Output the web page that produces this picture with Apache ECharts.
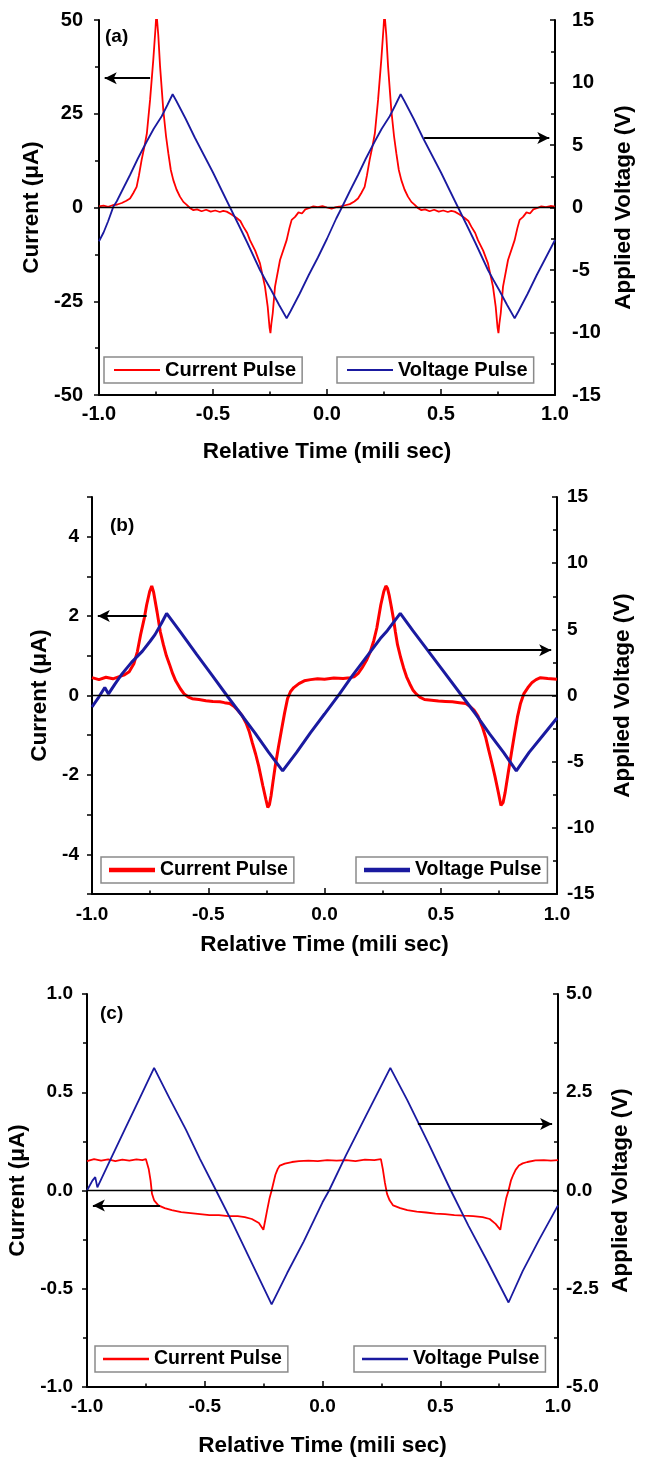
<!DOCTYPE html>
<html>
<head>
<meta charset="utf-8">
<script src="https://cdn.jsdelivr.net/npm/echarts@6/dist/echarts.min.js"></script>
<style>
  html, body { margin: 0; padding: 0; background: #fff; }
  #chart { width: 647px; height: 1461px; }
</style>
</head>
<body>
<div id="chart"></div>
<script>
// ---- data: [time (ms), value] ----
const currentA = [
  [-1.0, 0.3], [-0.98, 0.5], [-0.96, 0.2], [-0.94, 0.6], [-0.92, 0.8], [-0.9, 1.2], [-0.88, 1.8],
  [-0.864, 2.4], [-0.85, 3.8], [-0.835, 5.5], [-0.825, 8.5], [-0.813, 12.7], [-0.8, 16.5],
  [-0.79, 19.8], [-0.776, 28.7], [-0.762, 39.3], [-0.752, 48], [-0.748, 52], [-0.744, 52],
  [-0.74, 46], [-0.732, 37.5], [-0.718, 26], [-0.706, 19], [-0.696, 14.5], [-0.685, 10],
  [-0.674, 7.3], [-0.66, 4.8], [-0.645, 2.9], [-0.63, 1.5], [-0.615, 0.7], [-0.6, -0.2],
  [-0.586, -0.7], [-0.57, -0.5], [-0.55, -1.0], [-0.53, -0.6], [-0.51, -1.1], [-0.49, -0.8],
  [-0.47, -1.2], [-0.455, -0.9], [-0.44, -1.1], [-0.42, -1.8], [-0.396, -2.8], [-0.38, -3.6],
  [-0.367, -5.1], [-0.35, -6.8], [-0.338, -8.7], [-0.315, -11.5], [-0.294, -14.9],
  [-0.272, -21.1], [-0.26, -26.5], [-0.252, -32], [-0.248, -33.5], [-0.244, -31],
  [-0.238, -28.2], [-0.228, -21.1], [-0.206, -14], [-0.177, -8.7], [-0.165, -5.5],
  [-0.155, -3.3], [-0.14, -2.5], [-0.125, -1.3], [-0.11, -1.6], [-0.095, -0.5], [-0.08, -0.2],
  [-0.06, 0.3], [-0.04, 0.1], [-0.02, 0.4], [0.0, 0.0], [0.02, -0.3], [0.04, 0.1], [0.06, 0.3],
  [0.08, 0.6], [0.1, 0.9], [0.12, 1.6], [0.136, 2.4], [0.15, 3.8], [0.165, 5.5], [0.175, 8.5],
  [0.187, 12.7], [0.2, 16.5], [0.21, 19.8], [0.224, 28.7], [0.238, 39.3], [0.248, 48],
  [0.252, 52], [0.256, 52], [0.26, 46], [0.268, 37.5], [0.282, 26], [0.294, 19], [0.304, 14.5],
  [0.315, 10], [0.326, 7.3], [0.34, 4.8], [0.355, 2.9], [0.37, 1.5], [0.385, 0.7], [0.4, -0.2],
  [0.414, -0.7], [0.43, -0.5], [0.45, -1.0], [0.47, -0.6], [0.49, -1.1], [0.51, -0.8],
  [0.53, -1.2], [0.545, -0.9], [0.56, -1.1], [0.58, -1.8], [0.604, -2.8], [0.62, -3.6],
  [0.633, -5.1], [0.65, -6.8], [0.662, -8.7], [0.685, -11.5], [0.706, -14.9], [0.728, -21.1],
  [0.74, -26.5], [0.748, -32], [0.752, -33.5], [0.756, -31], [0.762, -28.2], [0.772, -21.1],
  [0.794, -14], [0.823, -8.7], [0.835, -5.5], [0.845, -3.3], [0.86, -2.5], [0.875, -1.3],
  [0.89, -1.6], [0.905, -0.5], [0.92, -0.2], [0.94, 0.3], [0.96, 0.1], [0.98, 0.4], [1.0, 0.2]
];
const voltageA = [
  [-1.0, -2.7], [-0.98, -2.0], [-0.96, -1.1], [-0.937, 0.07], [-0.922, 0.5], [-0.9, 1.3],
  [-0.864, 2.6], [-0.83, 3.9], [-0.79, 5.3], [-0.76, 6.3], [-0.725, 7.3], [-0.7, 8.2],
  [-0.677, 9.06], [-0.66, 8.5], [-0.62, 7.1], [-0.58, 5.6], [-0.54, 4.2], [-0.5, 2.8],
  [-0.46, 1.3], [-0.425, 0.0], [-0.39, -1.3], [-0.35, -2.8], [-0.294, -5.0], [-0.27, -5.8],
  [-0.245, -6.6], [-0.21, -7.8], [-0.177, -8.86], [-0.16, -8.3], [-0.12, -6.9], [-0.08, -5.4],
  [-0.04, -4.0], [0.0, -2.5], [0.04, -0.9], [0.065, 0.0], [0.1, 1.3], [0.136, 2.6], [0.17, 3.9],
  [0.21, 5.3], [0.24, 6.3], [0.275, 7.3], [0.3, 8.2], [0.323, 9.06], [0.34, 8.5], [0.38, 7.1],
  [0.42, 5.6], [0.46, 4.2], [0.5, 2.8], [0.54, 1.3], [0.575, 0.0], [0.61, -1.3], [0.65, -2.8],
  [0.706, -5.0], [0.73, -5.8], [0.755, -6.6], [0.79, -7.8], [0.823, -8.86], [0.84, -8.3],
  [0.88, -6.9], [0.92, -5.4], [0.96, -4.0], [1.0, -2.6]
];

const currentB = [
  [-1.0, 0.45], [-0.97, 0.4], [-0.94, 0.46], [-0.91, 0.42], [-0.88, 0.48], [-0.86, 0.52],
  [-0.84, 0.6], [-0.82, 0.8], [-0.805, 1.1], [-0.791, 1.53], [-0.775, 1.95], [-0.765, 2.28],
  [-0.752, 2.62], [-0.743, 2.76], [-0.735, 2.6], [-0.72, 2.1], [-0.706, 1.6], [-0.693, 1.28],
  [-0.68, 1.0], [-0.667, 0.79], [-0.653, 0.55], [-0.64, 0.37], [-0.62, 0.17], [-0.604, 0.04],
  [-0.585, -0.04], [-0.569, -0.08], [-0.54, -0.1], [-0.51, -0.13], [-0.48, -0.15],
  [-0.45, -0.16], [-0.43, -0.18], [-0.408, -0.2], [-0.39, -0.27], [-0.373, -0.37],
  [-0.355, -0.5], [-0.337, -0.7], [-0.323, -0.92], [-0.31, -1.2], [-0.296, -1.48],
  [-0.283, -1.78], [-0.265, -2.28], [-0.252, -2.62], [-0.244, -2.82], [-0.237, -2.75],
  [-0.23, -2.53], [-0.221, -2.15], [-0.212, -1.78], [-0.198, -1.3], [-0.185, -0.87],
  [-0.172, -0.45], [-0.159, -0.08], [-0.146, 0.1], [-0.132, 0.2], [-0.11, 0.3], [-0.087, 0.37],
  [-0.06, 0.4], [-0.03, 0.42], [0.0, 0.41], [0.04, 0.44], [0.08, 0.43], [0.11, 0.45],
  [0.127, 0.47], [0.145, 0.56], [0.162, 0.7], [0.18, 0.88], [0.198, 1.12], [0.212, 1.38],
  [0.225, 1.7], [0.242, 2.28], [0.255, 2.62], [0.264, 2.76], [0.271, 2.7], [0.278, 2.53],
  [0.287, 2.25], [0.296, 1.95], [0.305, 1.6], [0.314, 1.28], [0.327, 0.97], [0.34, 0.7],
  [0.353, 0.47], [0.367, 0.29], [0.38, 0.14], [0.394, 0.04], [0.41, -0.04], [0.43, -0.1],
  [0.46, -0.12], [0.49, -0.14], [0.52, -0.15], [0.55, -0.16], [0.58, -0.18], [0.608, -0.2],
  [0.625, -0.27], [0.643, -0.37], [0.66, -0.52], [0.679, -0.79], [0.693, -1.05],
  [0.706, -1.37], [0.72, -1.7], [0.733, -2.03], [0.748, -2.45], [0.759, -2.77], [0.768, -2.7],
  [0.777, -2.44], [0.79, -1.95], [0.804, -1.45], [0.817, -0.98], [0.83, -0.54], [0.843, -0.2],
  [0.857, 0.04], [0.875, 0.2], [0.893, 0.33], [0.91, 0.4], [0.929, 0.45], [0.96, 0.43],
  [1.0, 0.41]
];
const voltageB = [
  [-1.0, -0.87], [-0.97, -0.1], [-0.945, 0.6], [-0.939, 0.74], [-0.929, 0.12], [-0.9, 0.9],
  [-0.87, 1.65], [-0.83, 2.5], [-0.783, 3.35], [-0.75, 4.1], [-0.729, 4.6], [-0.7, 5.5],
  [-0.679, 6.2], [-0.62, 4.8], [-0.55, 3.1], [-0.48, 1.45], [-0.42, 0.0], [-0.36, -1.4],
  [-0.3, -2.8], [-0.24, -4.3], [-0.18, -5.7], [-0.12, -4.3], [-0.06, -2.8], [0.0, -1.4],
  [0.064, 0.1], [0.12, 1.5], [0.18, 2.9], [0.24, 4.3], [0.27, 4.9], [0.3, 5.6], [0.326, 6.2],
  [0.38, 4.9], [0.44, 3.5], [0.5, 2.1], [0.59, 0.0], [0.65, -1.4], [0.71, -2.9], [0.77, -4.3],
  [0.825, -5.7], [0.88, -4.3], [0.94, -3.0], [1.0, -1.7]
];

const currentC = [
  [-1.0, 0.15], [-0.97, 0.16], [-0.94, 0.152], [-0.91, 0.158], [-0.88, 0.15], [-0.85, 0.157],
  [-0.82, 0.152], [-0.79, 0.158], [-0.765, 0.155], [-0.75, 0.16], [-0.745, 0.155],
  [-0.738, 0.11], [-0.73, 0.05], [-0.724, -0.017], [-0.715, -0.05], [-0.697, -0.076],
  [-0.67, -0.09], [-0.64, -0.1], [-0.6, -0.11], [-0.56, -0.115], [-0.52, -0.12],
  [-0.48, -0.125], [-0.44, -0.125], [-0.4, -0.13], [-0.36, -0.13], [-0.33, -0.135],
  [-0.3, -0.145], [-0.27, -0.165], [-0.251, -0.2], [-0.243, -0.15], [-0.235, -0.1],
  [-0.225, -0.04], [-0.216, 0.0], [-0.2, 0.08], [-0.19, 0.11], [-0.181, 0.127],
  [-0.16, 0.137], [-0.13, 0.145], [-0.1, 0.15], [-0.06, 0.152], [-0.02, 0.15], [0.02, 0.155],
  [0.06, 0.152], [0.1, 0.155], [0.14, 0.15], [0.18, 0.157], [0.22, 0.155], [0.248, 0.16],
  [0.256, 0.11], [0.265, 0.04], [0.274, -0.017], [0.285, -0.05], [0.3, -0.076], [0.33, -0.09],
  [0.36, -0.1], [0.4, -0.108], [0.44, -0.112], [0.48, -0.118], [0.52, -0.12], [0.56, -0.125],
  [0.6, -0.128], [0.64, -0.13], [0.68, -0.135], [0.71, -0.145], [0.735, -0.17], [0.755, -0.2],
  [0.762, -0.15], [0.77, -0.1], [0.78, -0.04], [0.79, 0.0], [0.8, 0.05], [0.81, 0.08],
  [0.82, 0.105], [0.834, 0.127], [0.85, 0.138], [0.87, 0.145], [0.904, 0.153], [0.94, 0.155],
  [0.97, 0.152], [1.0, 0.155]
];
const voltageC = [
  [-1.0, 0.0], [-0.977, 0.25], [-0.965, 0.34], [-0.956, 0.08], [-0.9, 0.79], [-0.846, 1.47],
  [-0.78, 2.3], [-0.715, 3.12], [-0.65, 2.35], [-0.58, 1.55], [-0.52, 0.8], [-0.452, 0.0],
  [-0.38, -0.85], [-0.3, -1.85], [-0.216, -2.9], [-0.15, -2.1], [-0.08, -1.3], [0.0, -0.3],
  [0.028, 0.0], [0.1, 0.9], [0.18, 1.85], [0.288, 3.12], [0.36, 2.3], [0.45, 1.2],
  [0.545, 0.0], [0.62, -0.9], [0.7, -1.8], [0.79, -2.85], [0.85, -2.05], [0.92, -1.25],
  [1.0, -0.38]
];

// arrow annotations [from, tip] in data units of the axis they point to
const arrowCurrentA = [[-0.776, 34.5], [-0.975, 34.5]];
const arrowVoltageA = [[0.426, 5.57], [0.975, 5.57]];
const arrowCurrentB = [[-0.765, 2.0], [-0.975, 2.0]];
const arrowVoltageB = [[0.447, 3.42], [0.975, 3.42]];
const arrowCurrentC = [[-0.69, -0.076], [-0.975, -0.076]];
const arrowVoltageC = [[0.405, 1.69], [0.975, 1.69]];

const FONT = "'Liberation Sans', Arial, Helvetica, sans-serif";
const RED = "#ff0000";
const BLUE = "#1a1aa0";

function fixed(d) {
  return (v) => (Math.abs(v) < 1e-9 ? 0 : v).toFixed(d);
}
function evenOnly(v) {
  const n = Math.round(v);
  return n % 2 === 0 ? String(Math.abs(n) === 0 ? 0 : n) : "";
}

const panels = [
  {
    tag: "(a)", tagPos: [105, 27],
    grid: { left: 99, top: 20, width: 456, height: 375 },
    current: currentA, voltage: voltageA,
    arrowCur: arrowCurrentA, arrowVolt: arrowVoltageA,
    curAxis: { min: -50, max: 50, interval: 25, minor: 2, fmt: fixed(0) },
    voltAxis: { min: -15, max: 15, interval: 5, minor: 2, fmt: fixed(0) },
    lineWidth: 1.8, legendLine: 2, labelSize: 20, legendSize: 20,
    gap: { left: 55, right: 53, x: 45 }, margin: { left: 16, right: 17, x: 9 },
    legendCur: [104, 357], legendVolt: [337, 357], legendPad: [3, 6, 3, 10],
  },
  {
    tag: "(b)", tagPos: [110, 516],
    grid: { left: 92, top: 497, width: 465, height: 397 },
    current: currentB, voltage: voltageB,
    arrowCur: arrowCurrentB, arrowVolt: arrowVoltageB,
    curAxis: { min: -5, max: 5, interval: 1, minor: 0, fmt: evenOnly },
    voltAxis: { min: -15, max: 15, interval: 5, minor: 2, fmt: fixed(0) },
    lineWidth: 3, legendLine: 4.5, labelSize: 19, legendSize: 19.5,
    gap: { left: 34, right: 54, x: 39 }, margin: { left: 13, right: 10, x: 11 },
    legendCur: [101, 857], legendVolt: [356, 857], legendPad: [3, 6, 3, 8],
  },
  {
    tag: "(c)", tagPos: [100, 1004],
    grid: { left: 87, top: 994, width: 471, height: 393 },
    current: currentC, voltage: voltageC,
    arrowCur: arrowCurrentC, arrowVolt: arrowVoltageC,
    curAxis: { min: -1, max: 1, interval: 0.5, minor: 2, fmt: fixed(1) },
    voltAxis: { min: -5, max: 5, interval: 2.5, minor: 2, fmt: fixed(1) },
    lineWidth: 1.8, legendLine: 2.5, labelSize: 19, legendSize: 19.5,
    gap: { left: 54, right: 44, x: 47 }, margin: { left: 14, right: 8, x: 10 },
    legendCur: [95, 1346], legendVolt: [354, 1346], legendPad: [3, 6, 3, 8],
  },
];

const black = { color: "#000" };
const bold = (size) => ({ color: "#000", fontFamily: FONT, fontWeight: "bold", fontSize: size });

function valueAxis(p, i, side) {
  const a = side === "left" ? p.curAxis : p.voltAxis;
  return {
    type: "value",
    gridIndex: i,
    position: side,
    min: a.min, max: a.max, interval: a.interval,
    axisLine: { show: true, onZero: false, lineStyle: { ...black, width: 2 } },
    axisTick: { show: true, inside: side === "right", length: 5, lineStyle: { ...black, width: 1.5 } },
    minorTick: { show: a.minor > 0, splitNumber: a.minor || 5, length: 4, lineStyle: { ...black, width: 1.5 } },
    splitLine: { show: false },
    axisLabel: { ...bold(p.labelSize), margin: p.margin[side], formatter: a.fmt, showMinLabel: true, showMaxLabel: true },
    name: side === "left" ? "Current (\u03bcA)" : "Applied Voltage (V)",
    nameLocation: "middle",
    nameRotate: 90,
    nameGap: p.gap[side],
    nameTextStyle: bold(22.5),
  };
}

function markArrow(arrow) {
  return [
    { coord: arrow[0], symbol: "none", lineStyle: { ...black, width: 2, type: "solid" } },
    { coord: arrow[1], symbol: "arrow", symbolSize: [9, 12] },
  ];
}

const option = {
  animation: false,
  backgroundColor: "#fff",
  grid: [], xAxis: [], yAxis: [], legend: [], series: [], graphic: [],
};

panels.forEach((p, i) => {
  option.grid.push({ ...p.grid, containLabel: false, outerBoundsMode: "none" });

  option.xAxis.push({
    type: "value", gridIndex: i, position: "bottom",
    min: -1, max: 1, interval: 0.5,
    axisLine: { show: true, onZero: false, lineStyle: { ...black, width: 2 } },
    axisTick: { show: true, inside: true, length: 6, lineStyle: { ...black, width: 1.5 } },
    minorTick: { show: true, splitNumber: 2, length: 3.5, lineStyle: { ...black, width: 1.5 } },
    splitLine: { show: false },
    axisLabel: { ...bold(p.labelSize), margin: p.margin.x, formatter: fixed(1), showMinLabel: true, showMaxLabel: true },
    name: "Relative Time (mili sec)",
    nameLocation: "middle",
    nameGap: p.gap.x,
    nameTextStyle: bold(22.5),
  });
  option.yAxis.push(valueAxis(p, i, "left"), valueAxis(p, i, "right"));

  option.series.push({
    type: "line",
    name: "Current Pulse",
    xAxisIndex: i,
    yAxisIndex: 2 * i,
    data: p.current,
    symbol: "none",
    color: RED,
    lineStyle: { color: RED, width: p.lineWidth },
    clip: true,
    markLine: {
      silent: true,
      symbol: ["none", "none"],
      label: { show: false },
      lineStyle: { ...black, type: "solid" },
      data: [
        { yAxis: 0, lineStyle: { ...black, width: 1.3, type: "solid" } },
        markArrow(p.arrowCur),
      ],
    },
  });
  option.series.push({
    type: "line",
    name: "Voltage Pulse",
    xAxisIndex: i,
    yAxisIndex: 2 * i + 1,
    data: p.voltage,
    symbol: "none",
    color: BLUE,
    lineStyle: { color: BLUE, width: p.lineWidth },
    clip: true,
    markLine: {
      silent: true,
      symbol: ["none", "none"],
      label: { show: false },
      lineStyle: { ...black, type: "solid" },
      data: [markArrow(p.arrowVolt)],
    },
  });

  [["Current Pulse", p.legendCur, RED], ["Voltage Pulse", p.legendVolt, BLUE]].forEach(([name, pos, col]) => {
    option.legend.push({
      left: pos[0], top: pos[1],
      data: [{ name: name, icon: "rect", itemStyle: { color: col, borderWidth: 0 } }],
      selectedMode: false,
      padding: p.legendPad,
      itemWidth: 46, itemHeight: p.legendLine,
      borderColor: "#8a8a8a", borderWidth: 1.5,
      backgroundColor: "#fff",
      textStyle: bold(p.legendSize),
    });
  });

  option.graphic.push({
    type: "text",
    left: p.tagPos[0], top: p.tagPos[1],
    style: { text: p.tag, font: "bold 19px " + FONT, fill: "#000" },
  });
});

const chart = echarts.init(document.getElementById("chart"), null, { renderer: "canvas" });
chart.setOption(option);
</script>
</body>
</html>
